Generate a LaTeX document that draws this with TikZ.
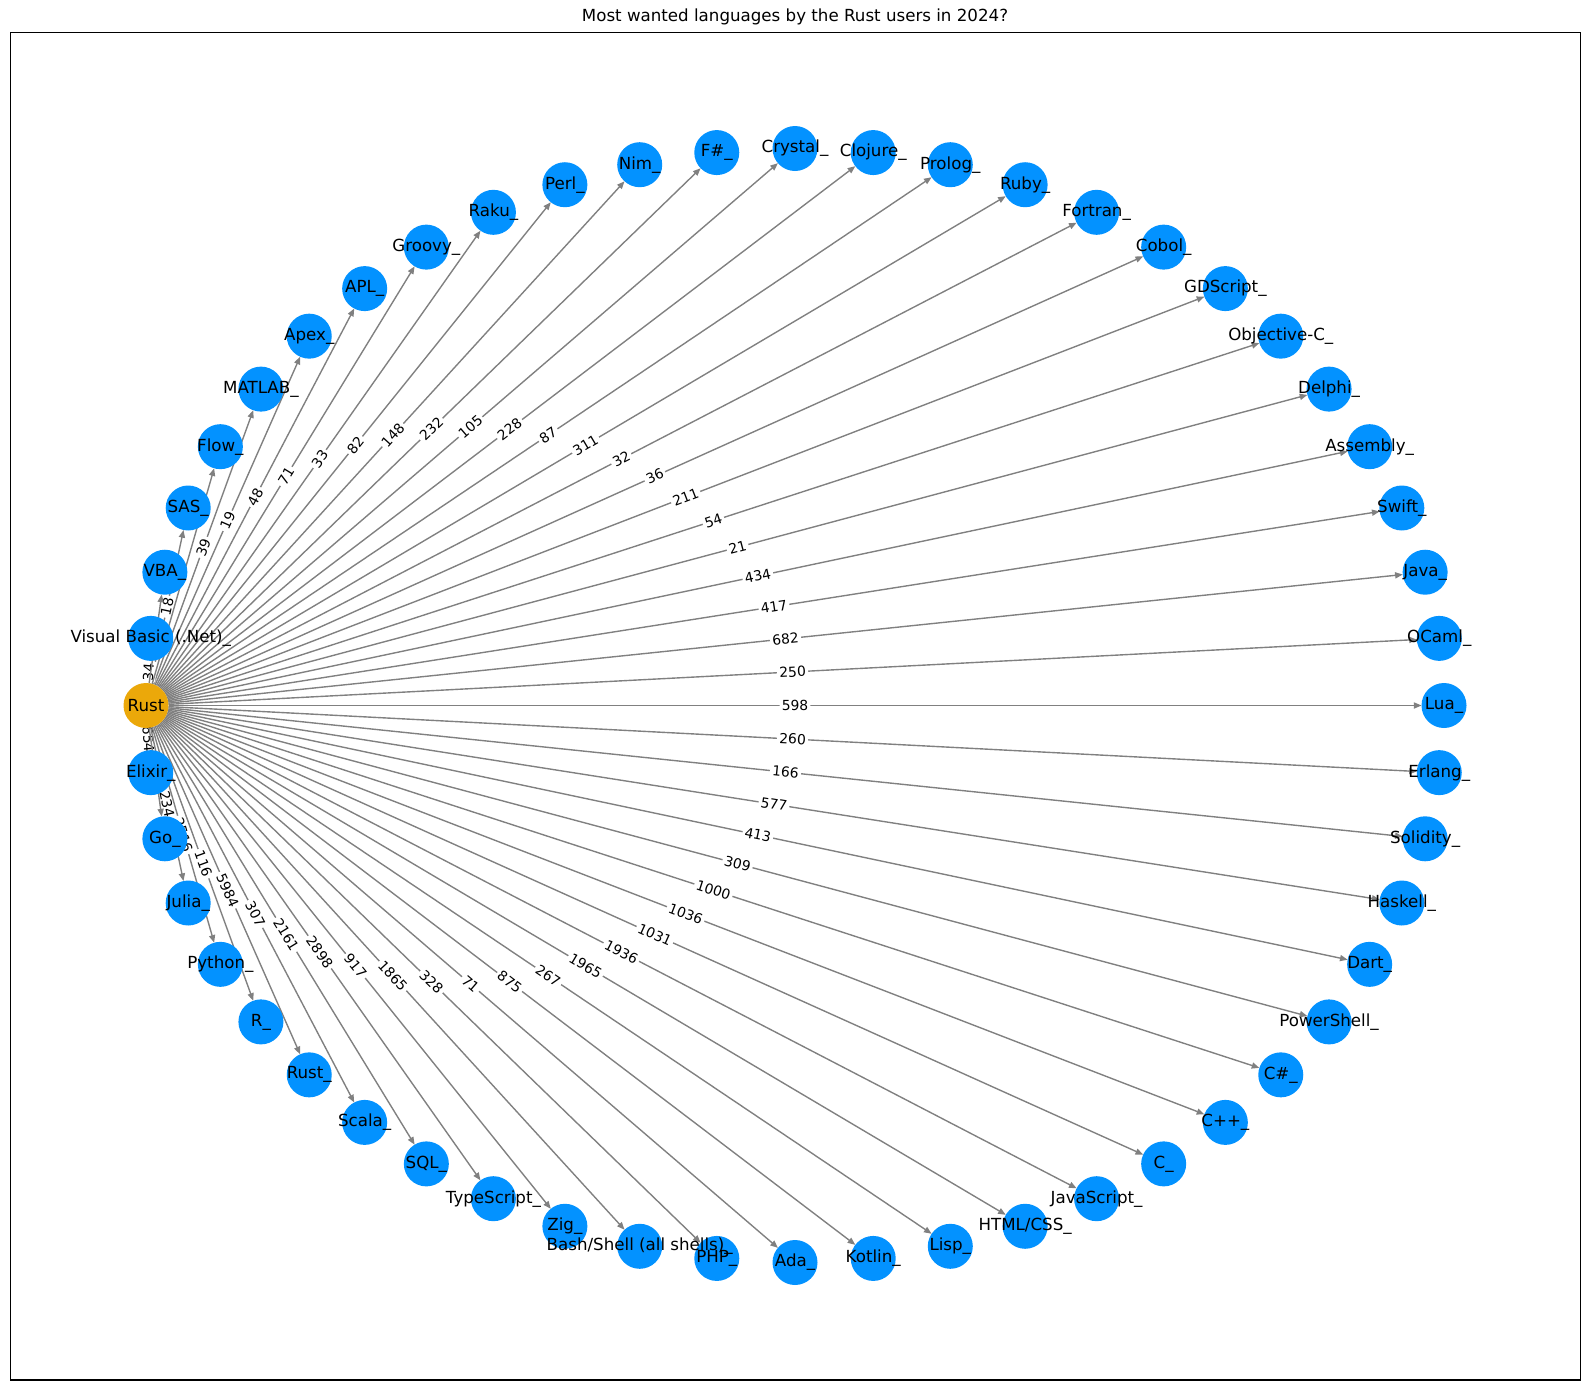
\documentclass[tikz,border=0pt]{standalone}
\usepackage{fontspec}
\setmainfont{DejaVu Sans}
\usetikzlibrary{arrows.meta}
\definecolor{nodeblue}{HTML}{0392FF}
\definecolor{rustorange}{HTML}{EBA80A}
\definecolor{edgegray}{HTML}{808080}
\pgfdeclarelayer{bg}
\pgfdeclarelayer{fg}
\pgfsetlayers{bg,main,fg}
\begin{document}
\begin{tikzpicture}[x=0.72pt,y=-0.72pt,
  lang/.style={circle, minimum size=32.4pt, inner sep=0pt, outer sep=0pt},
  langfill/.style={lang, fill=nodeblue},
  rustfill/.style={lang, fill=rustorange},
  edgeline/.style={draw=edgegray, line width=1pt, -{Triangle[length=5.5pt,width=4.4pt]}},
  wlabel/.style={font=\fontsize{10}{12}\selectfont, fill=white, inner sep=1.6pt, rounded corners=2pt, sloped, midway},
  nlabel/.style={font=\fontsize{12}{14}\selectfont, inner sep=0pt},
  titlestyle/.style={font=\fontsize{12}{14}\selectfont}]
\useasboundingbox (0,0) rectangle (1590,1390);
\node[titlestyle] (title) at (795,17) {Most wanted languages by the Rust users in 2024?};
\draw[line width=0.8pt] (10.5,32.3) rectangle (1580.5,1380);
% nodes
\node[rustfill] (rust) at (146,705.5) {};
\foreach \i in {0,...,25,27,28,...,51}{
  \pgfmathsetmacro{\ang}{\i*6.9230769}
  \node[langfill] (n\i) at ({795+649*cos(\ang)},{705.5-557*sin(\ang)}) {};
}
% edges with weights
\begin{pgfonlayer}{bg}
\foreach \i/\w in {0/598,1/250,2/682,3/417,4/434,5/21,6/54,7/211,8/36,9/32,10/311,11/87,12/228,13/105,14/232,15/148,16/82,17/33,18/71,19/48,20/19,21/39,23/18,25/34,27/654,29/234,30/2516,31/116,32/5984,33/307,34/2161,35/2898,36/917,37/1865,38/328,39/71,40/875,41/267,42/1965,43/1936,44/1031,45/1036,46/1000,47/309,48/413,49/577,50/166,51/260}{
  \draw[edgeline] (rust) -- (n\i) node[wlabel] {\w};
}
\foreach \i in {22,24,28}{
  \draw[edgeline] (rust) -- (n\i);
}
\end{pgfonlayer}
% labels
\begin{pgfonlayer}{fg}
\node[nlabel] (trust) at (rust) {Rust};
\foreach \i/\t in {0/Lua\_,1/OCaml\_,2/Java\_,3/Swift\_,4/Assembly\_,5/Delphi\_,6/Objective-C\_,7/GDScript\_,8/Cobol\_,9/Fortran\_,10/Ruby\_,11/Prolog\_,12/Clojure\_,13/Crystal\_,14/F\#\_,15/Nim\_,16/Perl\_,17/Raku\_,18/Groovy\_,19/APL\_,20/Apex\_,21/MATLAB\_,22/Flow\_,23/SAS\_,24/VBA\_,25/Visual Basic (.Net)\_,27/Elixir\_,28/Go\_,29/Julia\_,30/Python\_,31/R\_,32/Rust\_,33/Scala\_,34/SQL\_,35/TypeScript\_,36/Zig\_,37/{Bash/Shell (all shells)\_},38/PHP\_,39/Ada\_,40/Kotlin\_,41/Lisp\_,42/{HTML/CSS\_},43/JavaScript\_,44/C\_,45/C++\_,46/C\#\_,47/PowerShell\_,48/Dart\_,49/Haskell\_,50/Solidity\_,51/Erlang\_}{
  \node[nlabel] (t\i) at (n\i) {\t};
}
\end{pgfonlayer}
\end{tikzpicture}
\end{document}
